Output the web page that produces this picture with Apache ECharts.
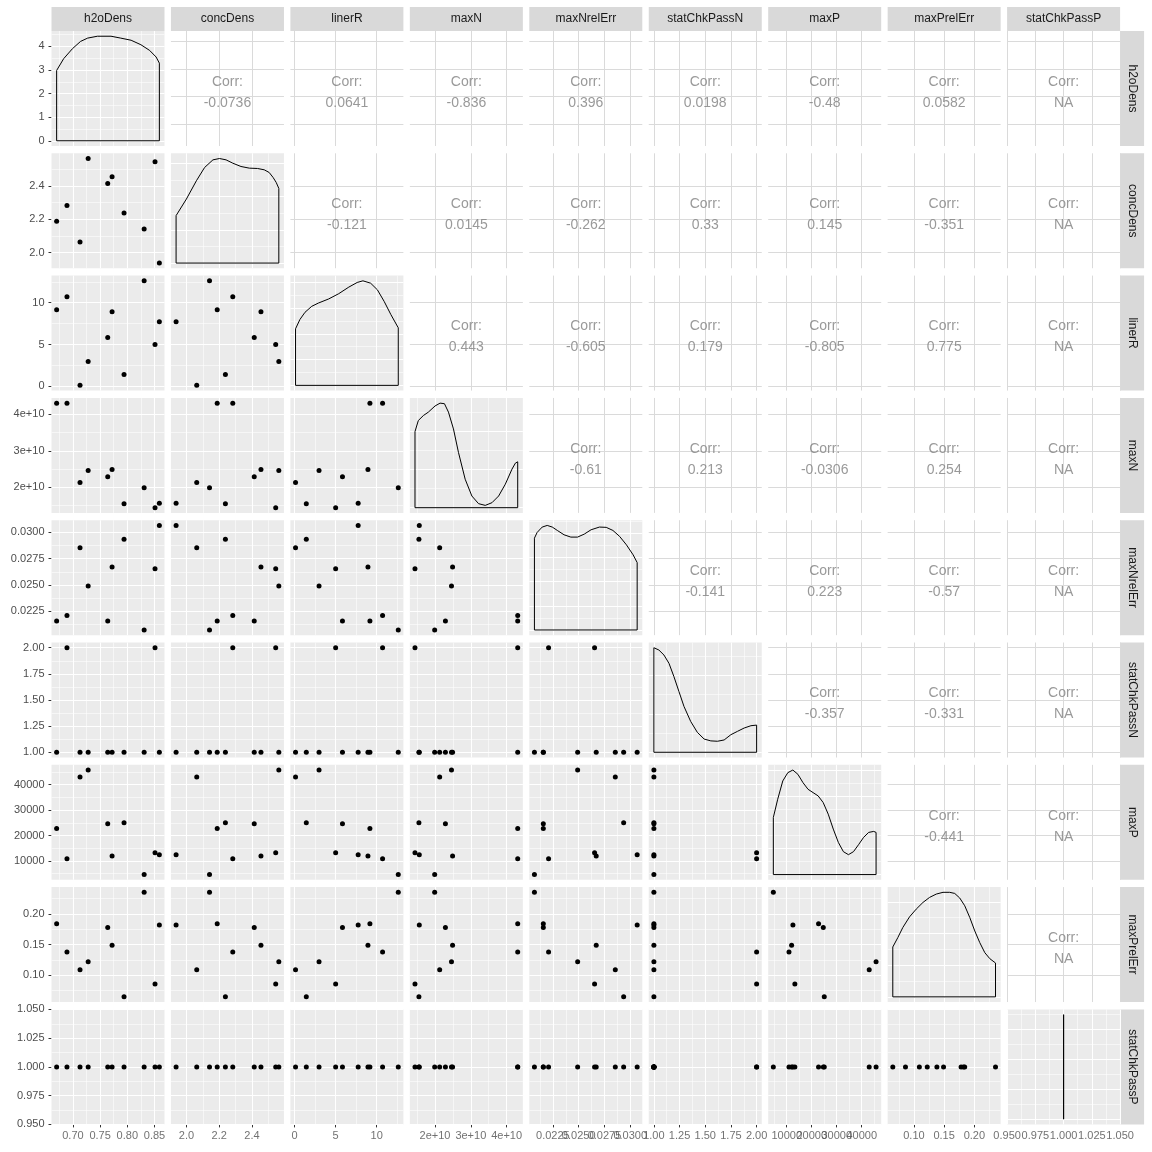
<!DOCTYPE html>
<html><head><meta charset="utf-8">
<script src="https://cdn.jsdelivr.net/npm/echarts@6/dist/echarts.min.js"></script>
<style>html,body{margin:0;padding:0;background:#fff}#c{width:1152px;height:1152px}</style>
</head><body><div id="c"></div><script>
// ---------------- data (one entry per observation) ----------------
const varNames = ['h2oDens','concDens','linerR','maxN','maxNrelErr','statChkPassN','maxP','maxPrelErr','statChkPassP'];
const h2oDens      = [0.670, 0.689, 0.713, 0.728, 0.764, 0.772, 0.794, 0.831, 0.851, 0.859];
const concDens     = [2.188, 2.283, 2.063, 2.564, 2.414, 2.455, 2.238, 2.141, 2.545, 1.937];
const linerR       = [9.17, 10.71, 0.12, 2.98, 5.83, 8.93, 1.43, 12.62, 5.00, 7.74];
const maxN         = [4.31e10, 4.31e10, 2.13e10, 2.46e10, 2.29e10, 2.49e10, 1.55e10, 1.99e10, 1.44e10, 1.56e10];
const maxNrelErr   = [0.02157, 0.02208, 0.02855, 0.02490, 0.02157, 0.02670, 0.02936, 0.02071, 0.02654, 0.03067];
const statChkPassN = [1, 2, 1, 1, 1, 1, 1, 1, 2, 1];
const maxP         = [22740, 10910, 43000, 45740, 24630, 11960, 25020, 4650, 13260, 12480];
const maxPrelErr   = [0.184, 0.138, 0.109, 0.122, 0.178, 0.149, 0.065, 0.235, 0.086, 0.182];
const statChkPassP = [1, 1, 1, 1, 1, 1, 1, 1, 1, 1];

// density curves: [x, density]
const densH2oDens = [[0.670,2.98],[0.683,3.48],[0.699,3.90],[0.714,4.21],[0.727,4.35],[0.745,4.43],[0.770,4.43],[0.788,4.35],[0.807,4.26],[0.825,4.07],[0.841,3.83],[0.853,3.55],[0.859,3.29]];
const densConcDens = [[1.937,0.715],[2.000,0.965],[2.061,1.24],[2.111,1.44],[2.162,1.555],[2.202,1.575],[2.242,1.555],[2.283,1.505],[2.333,1.455],[2.384,1.43],[2.434,1.425],[2.475,1.405],[2.505,1.365],[2.529,1.29],[2.548,1.215],[2.564,1.125]];
const densLinerR = [[0.12,0.0548],[0.65,0.0638],[1.27,0.0708],[2.09,0.0766],[2.91,0.0798],[4.14,0.0837],[5.37,0.0888],[6.60,0.0952],[7.62,0.0997],[8.32,0.1013],[9.26,0.0990],[10.08,0.0926],[10.90,0.0814],[11.72,0.0686],[12.62,0.0558]];
const densMaxN = [[1.44e10,3.98e-11],[1.533e10,4.56e-11],[1.674e10,4.82e-11],[1.814e10,5.00e-11],[2.0e10,5.32e-11],[2.141e10,5.47e-11],[2.263e10,5.44e-11],[2.375e10,5.00e-11],[2.515e10,4.12e-11],[2.655e10,2.89e-11],[2.842e10,1.49e-11],[3.029e10,0.61e-11],[3.216e10,0.21e-11],[3.403e10,0.12e-11],[3.59e10,0.26e-11],[3.777e10,0.61e-11],[3.964e10,1.23e-11],[4.151e10,2.02e-11],[4.245e10,2.33e-11],[4.31e10,2.40e-11]];
const densMaxNrelErr = [[0.02071,95.1],[0.02097,101],[0.02146,106.6],[0.02195,108.3],[0.02244,106.6],[0.02293,103.1],[0.02358,98.6],[0.02424,96.2],[0.02489,96.2],[0.02554,99.3],[0.02620,103.8],[0.02701,106.6],[0.02767,106.3],[0.02832,103.1],[0.02897,96.9],[0.02963,88.2],[0.03028,77.8],[0.03067,69.8]];
const densStatChkPassN = [[1,1.358],[1.049,1.328],[1.098,1.263],[1.147,1.155],[1.195,0.983],[1.244,0.789],[1.293,0.595],[1.358,0.401],[1.423,0.259],[1.489,0.172],[1.554,0.148],[1.619,0.143],[1.684,0.160],[1.749,0.228],[1.814,0.272],[1.879,0.315],[1.945,0.345],[2,0.353]];
const densMaxP = [[4650,2.183e-5],[6401,2.881e-5],[8422,3.579e-5],[10442,3.896e-5],[12463,3.997e-5],[14483,3.832e-5],[16504,3.515e-5],[18524,3.261e-5],[20545,3.134e-5],[22566,3.008e-5],[24586,2.754e-5],[26607,2.310e-5],[28627,1.739e-5],[30648,1.231e-5],[32668,0.876e-5],[34689,0.761e-5],[36709,0.876e-5],[38730,1.142e-5],[40750,1.421e-5],[42771,1.612e-5],[44791,1.650e-5],[45740,1.612e-5]];
const densMaxPrelErr = [[0.065,3.15],[0.0733,3.74],[0.0816,4.38],[0.0927,5.05],[0.1038,5.54],[0.1149,5.96],[0.1259,6.28],[0.1370,6.49],[0.1481,6.60],[0.1592,6.60],[0.1675,6.53],[0.1758,6.24],[0.1841,5.75],[0.1924,5.01],[0.2007,4.16],[0.2090,3.42],[0.2173,2.79],[0.2256,2.41],[0.235,2.14]];
const densStatChkPassP = [[1,0.70]];

// tick values and labels
const h2oDensTicks = [0.70,0.75,0.80,0.85];           const h2oDensLabels = ['0.70','0.75','0.80','0.85'];
const concDensTicks = [2.0,2.2,2.4];                  const concDensLabels = ['2.0','2.2','2.4'];
const linerRTicks = [0,5,10];                         const linerRLabels = ['0','5','10'];
const maxNTicks = [2e10,3e10,4e10];                   const maxNLabels = ['2e+10','3e+10','4e+10'];
const maxNrelErrTicks = [0.0225,0.0250,0.0275,0.0300]; const maxNrelErrLabels = ['0.0225','0.0250','0.0275','0.0300'];
const statChkPassNTicks = [1,1.25,1.5,1.75,2];        const statChkPassNLabels = ['1.00','1.25','1.50','1.75','2.00'];
const maxPTicks = [10000,20000,30000,40000];          const maxPLabels = ['10000','20000','30000','40000'];
const maxPrelErrTicks = [0.10,0.15,0.20];             const maxPrelErrLabels = ['0.10','0.15','0.20'];
const statChkPassPTicks = [0.95,0.975,1,1.025,1.05];  const statChkPassPLabels = ['0.950','0.975','1.000','1.025','1.050'];
const h2oDensDensityTicks = [0,1,2,3,4];              const h2oDensDensityLabels = ['0','1','2','3','4'];

// major break spacing of each variable, and of each density panel
const majorSteps = [0.05, 0.2, 5, 1e10, 0.0025, 0.25, 10000, 0.05, 0.025];
const densityMajorSteps = [1, 0.5, 0.025, 2e-11, 25, 0.5, 1e-5, 2, 0.2];

// correlation texts, upper triangle, row by row
const corrRow1 = ['-0.0736','0.0641','-0.836','0.396','0.0198','-0.48','0.0582','NA'];
const corrRow2 = ['-0.121','0.0145','-0.262','0.33','0.145','-0.351','NA'];
const corrRow3 = ['0.443','-0.605','0.179','-0.805','0.775','NA'];
const corrRow4 = ['-0.61','0.213','-0.0306','0.254','NA'];
const corrRow5 = ['-0.141','0.223','-0.57','NA'];
const corrRow6 = ['-0.357','-0.331','NA'];
const corrRow7 = ['-0.441','NA'];
const corrRow8 = ['NA'];

// ---------------- assembly ----------------
const cols = [h2oDens, concDens, linerR, maxN, maxNrelErr, statChkPassN, maxP, maxPrelErr, statChkPassP];
const dens = [densH2oDens, densConcDens, densLinerR, densMaxN, densMaxNrelErr, densStatChkPassN, densMaxP, densMaxPrelErr, densStatChkPassP];
const ticks = [h2oDensTicks, concDensTicks, linerRTicks, maxNTicks, maxNrelErrTicks, statChkPassNTicks, maxPTicks, maxPrelErrTicks, statChkPassPTicks];
const tickLabels = [h2oDensLabels, concDensLabels, linerRLabels, maxNLabels, maxNrelErrLabels, statChkPassNLabels, maxPLabels, maxPrelErrLabels, statChkPassPLabels];
const corrRows = [corrRow1, corrRow2, corrRow3, corrRow4, corrRow5, corrRow6, corrRow7, corrRow8];

const N = varNames.length;
const LEFT0 = 51.5, PITCH_X = 119.45, PW = 113;
const TOP0 = 31, PITCH_Y = 122.3, PH = 115;
const FONT = 'Liberation Sans';

function rangeOf(arr) {
  const lo = Math.min(...arr), hi = Math.max(...arr);
  if (hi === lo) return [Number((lo - 0.05).toFixed(10)), Number((hi + 0.05).toFixed(10))];
  const p = 0.05 * (hi - lo);
  return [lo - p, hi + p];
}
function densRange(d) {
  const hi = Math.max(...d.map(p => p[1]));
  return [-0.05 * hi, 1.05 * hi];
}
function breaksIn(r, step) {
  const half = step / 2, out = [];
  const k0 = Math.ceil(r[0] / half - 1e-9), k1 = Math.floor(r[1] / half + 1e-9);
  for (let k = k0; k <= k1; k++) out.push({ v: k * half, major: Math.abs(k) % 2 === 0 });
  return out;
}
function fmt(tv, tl) {
  return function (v) {
    const k = tv.findIndex(t => Math.abs(t - v) <= Math.abs(t) * 1e-9 + 1e-12);
    return k >= 0 ? tl[k] : '';
  };
}

const ranges = cols.map(rangeOf);
const dRanges = dens.map(densRange);

const option = { animation: false, backgroundColor: '#FFFFFF', grid: [], xAxis: [], yAxis: [], series: [], graphic: [] };
const labelStyle = { color: '#4D4D4D', fontSize: 11, fontFamily: FONT, showMinLabel: true, showMaxLabel: true, hideOverlap: false };
const tickStyle = { length: 3, lineStyle: { color: '#333333', width: 1 } };

for (let i = 0; i < N; i++) {
  for (let j = 0; j < N; j++) {
    const g = i * N + j;
    const left = LEFT0 + j * PITCH_X, top = TOP0 + i * PITCH_Y;
    const upper = j > i, diag = i === j;
    const xr = ranges[j];
    const yr = diag ? dRanges[i] : ranges[i];
    option.grid.push({ left: left, top: top, width: PW, height: PH, show: true,
      backgroundColor: upper ? '#FFFFFF' : '#EBEBEB', borderWidth: 0 });

    const xT = ticks[j], xL = tickLabels[j];
    option.xAxis.push({ type: 'value', gridIndex: g, min: xr[0], max: xr[1],
      axisLine: { show: false }, splitLine: { show: false },
      axisTick: Object.assign({ show: i === N - 1, customValues: xT }, tickStyle),
      axisLabel: { show: false } });

    const yT = (diag && i === 0) ? h2oDensDensityTicks : ticks[i];
    const yL = (diag && i === 0) ? h2oDensDensityLabels : tickLabels[i];
    option.yAxis.push({ type: 'value', gridIndex: g, min: yr[0], max: yr[1],
      axisLine: { show: false }, splitLine: { show: false },
      axisTick: Object.assign({ show: j === 0, customValues: yT }, tickStyle),
      axisLabel: Object.assign({ show: j === 0, customValues: yT, formatter: fmt(yT, yL), margin: 7 }, labelStyle) });

    // gridlines
    const gl = [];
    const xb = breaksIn(xr, majorSteps[j]);
    const yb = breaksIn(yr, diag ? densityMajorSteps[i] : majorSteps[i]);
    const lineColor = upper ? '#DADADA' : '#FFFFFF';
    xb.forEach(b => {
      if (upper && !b.major) return;
      gl.push({ coords: [[b.v, yr[0]], [b.v, yr[1]]], lineStyle: { width: upper ? 1 : (b.major ? 1.1 : 0.55), color: lineColor, opacity: 1 } });
    });
    yb.forEach(b => {
      if (upper && !b.major) return;
      gl.push({ coords: [[xr[0], b.v], [xr[1], b.v]], lineStyle: { width: upper ? 1 : (b.major ? 1.1 : 0.55), color: lineColor, opacity: 1 } });
    });
    option.series.push({ type: 'lines', coordinateSystem: 'cartesian2d', xAxisIndex: g, yAxisIndex: g,
      polyline: false, silent: true, z: 1, effect: { show: false }, data: gl,
      lineStyle: { color: lineColor, opacity: 1, width: 1 } });

    // bottom-row tick labels (all drawn, overlapping like the original)
    if (i === N - 1) {
      option.series.push({ type: 'scatter', xAxisIndex: g, yAxisIndex: g, clip: false, silent: true, z: 4,
        data: xT.map(t => [t, yr[0]]), symbolSize: 1, itemStyle: { color: 'rgba(0,0,0,0)' },
        labelLayout: { hideOverlap: false },
        label: { show: true, position: 'bottom', distance: 6, formatter: p => xL[p.dataIndex],
          color: '#4D4D4D', fontSize: 11, fontFamily: FONT } });
    }

    if (diag) {
      const d = dens[i];
      const poly = [[d[0][0], 0]].concat(d).concat([[d[d.length - 1][0], 0], [d[0][0], 0]]);
      option.series.push({ type: 'line', xAxisIndex: g, yAxisIndex: g, data: poly, showSymbol: false, symbol: 'none',
        silent: true, z: 3, lineStyle: { color: '#000000', width: 1 } });
    } else if (!upper) {
      const pts = cols[j].map((v, k) => [v, cols[i][k]]);
      option.series.push({ type: 'scatter', xAxisIndex: g, yAxisIndex: g, data: pts, symbolSize: 5,
        silent: true, z: 3, itemStyle: { color: '#000000', opacity: 1 } });
    } else {
      const txt = corrRows[i][j - i - 1];
      option.series.push({ type: 'scatter', xAxisIndex: g, yAxisIndex: g,
        data: [[(xr[0] + xr[1]) / 2, (yr[0] + yr[1]) / 2]], symbolSize: 1, silent: true, z: 3,
        itemStyle: { color: 'rgba(0,0,0,0)' },
        label: { show: true, position: 'inside', offset: [0, 4], formatter: 'Corr:\n' + txt,
          color: '#7F7F7F', fontSize: 14, lineHeight: 21, fontFamily: FONT, align: 'center', verticalAlign: 'middle' } });
    }
  }
}

// strips
for (let j = 0; j < N; j++) {
  const left = LEFT0 + j * PITCH_X;
  option.graphic.push({ type: 'rect', silent: true, shape: { x: left, y: 7, width: PW, height: 24 }, style: { fill: '#D9D9D9' } });
  option.graphic.push({ type: 'text', silent: true, x: left + PW / 2, y: 19,
    style: { text: varNames[j], x: 0, y: 0, align: 'center', verticalAlign: 'middle', textAlign: 'center', textVerticalAlign: 'middle',
      fill: '#1A1A1A', font: '12px "Liberation Sans"' } });
}
const stripX = LEFT0 + (N - 1) * PITCH_X + PW;
for (let i = 0; i < N; i++) {
  const top = TOP0 + i * PITCH_Y;
  option.graphic.push({ type: 'rect', silent: true, shape: { x: stripX, y: top, width: 24, height: PH }, style: { fill: '#D9D9D9' } });
  option.graphic.push({ type: 'text', silent: true, x: stripX + 12, y: top + PH / 2, rotation: -Math.PI / 2,
    style: { text: varNames[i], x: 0, y: 0, align: 'center', verticalAlign: 'middle', textAlign: 'center', textVerticalAlign: 'middle',
      fill: '#1A1A1A', font: '12px "Liberation Sans"' } });
}

const chart = echarts.init(document.getElementById('c'), null, { renderer: 'canvas' });
chart.setOption(option);
</script></body></html>
